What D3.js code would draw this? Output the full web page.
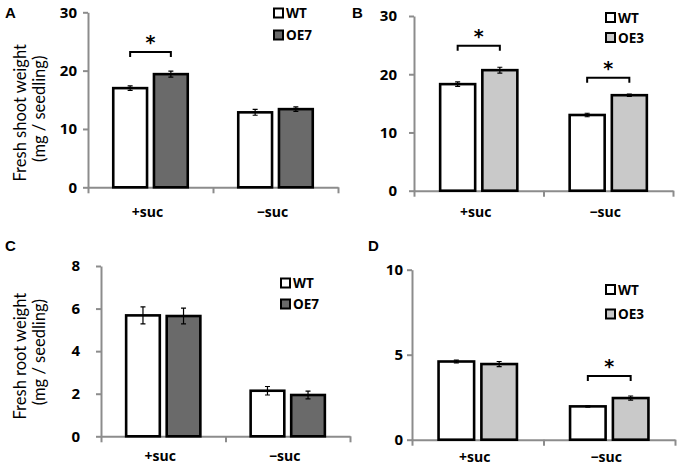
<!DOCTYPE html>
<html>
<head>
<meta charset="utf-8">
<script src="https://cdn.jsdelivr.net/npm/d3@7"></script>
<style>
  body { margin: 0; background: #fff; }
  svg { display: block; font-family: "Open Sans", Lato, sans-serif; }
</style>
</head>
<body>
<svg id="drawing_region"></svg>
<script>
// ---- data ----
const categories = ['+suc', '\u2212suc']

const shootWT_A = [17.0, 12.85]
const shootWT_A_err = [0.4, 0.5]
const shootOE7 = [19.4, 13.4]
const shootOE7_err = [0.5, 0.4]

const shootWT_B = [18.3, 13.0]
const shootWT_B_err = [0.4, 0.3]
const shootOE3 = [20.7, 16.4]
const shootOE3_err = [0.5, 0.2]

const rootWT_C = [5.68, 2.14]
const rootWT_C_err = [0.4, 0.2]
const rootOE7 = [5.65, 1.94]
const rootOE7_err = [0.37, 0.18]

const rootWT_D = [4.6, 1.96]
const rootWT_D_err = [0.08, 0.05]
const rootOE3 = [4.45, 2.45]
const rootOE3_err = [0.15, 0.12]

const shootTicks = [0, 10, 20, 30]
const rootTicksC = [0, 2, 4, 6, 8]
const rootTicksD = [0, 5, 10]

// brackets: category and bracket height in axis units
const sigA = [{cat: '+suc', level: 23.2}]
const sigB = [{cat: '+suc', level: 24.9}, {cat: '\u2212suc', level: 19.4}]
const sigC = []
const sigD = [{cat: '\u2212suc', level: 3.75}]

class BarPanel{
    constructor(config, series, sig){
        this.config = config
        this.series = series
        this.sig = sig
        this.init()
    }

    init(){
        let self = this
        const c = self.config
        self.g = d3.select('#drawing_region').append('g')

        self.xscale = d3.scaleBand().domain(categories).range([c.left, c.right]).padding(0)
        self.sub = d3.scaleBand().domain(self.series.map(s => s.name))
            .range([0, self.xscale.bandwidth()]).paddingInner(0.17).paddingOuter(0.62)
        self.yscale = d3.scaleLinear().domain([0, c.ymax]).range([c.bottom, c.top])
    }

    render(){
        let self = this
        const c = self.config
        const g = self.g

        // y axis
        const yaxis = d3.axisLeft(self.yscale).tickValues(c.ticks).tickSize(5).tickSizeOuter(0).tickPadding(c.tickPad)
        const ya = g.append('g').attr('transform', `translate(${c.left},0)`).call(yaxis)
        ya.select('.domain').attr('stroke', '#8c8c8c').attr('stroke-width', 2)
        ya.selectAll('.tick line').attr('stroke', '#8c8c8c').attr('stroke-width', 2)
        ya.selectAll('.tick text').attr('font-size', 15).attr('font-weight', 'bold')
            .attr('font-family', '"Open Sans", sans-serif').attr('fill', '#000')

        // x axis: ticks at band edges
        const xedge = d3.scaleLinear().domain([0, 2]).range([c.left, c.right])
        const xaxis = d3.axisBottom(xedge).tickValues([0, 1, 2]).tickSize(6).tickSizeOuter(0).tickFormat('')
        const xa = g.append('g').attr('transform', `translate(0,${c.bottom})`).call(xaxis)
        xa.select('.domain').attr('stroke', '#8c8c8c').attr('stroke-width', 2)
        xa.selectAll('.tick line').attr('stroke', '#8c8c8c').attr('stroke-width', 2)

        g.selectAll('.xlab').data(categories).enter().append('text')
            .attr('x', d => self.xscale(d) + self.xscale.bandwidth() / 2 - 3)
            .attr('y', c.bottom + c.xlabY)
            .attr('text-anchor', 'middle')
            .attr('font-size', 14).attr('font-weight', 'bold')
            .text(d => d)

        // bars
        self.series.forEach(s => {
            const rows = categories.map((cat, i) => ({cat: cat, v: s.values[i], e: s.err[i]}))
            const x0 = d => self.xscale(d.cat) + self.sub(s.name)
            g.selectAll(null).data(rows).enter().append('rect')
                .attr('x', x0)
                .attr('y', d => self.yscale(d.v))
                .attr('width', self.sub.bandwidth())
                .attr('height', d => self.yscale(0) - self.yscale(d.v))
                .attr('fill', s.color)
                .attr('stroke', '#000').attr('stroke-width', 2.6)

            const cx = d => x0(d) + self.sub.bandwidth() / 2
            g.selectAll(null).data(rows).enter().append('path')
                .attr('d', d => {
                    const y1 = self.yscale(d.v + d.e), y2 = self.yscale(d.v - d.e), x = cx(d)
                    return `M${x},${y1}V${y2}M${x - 2.5},${y1}H${x + 2.5}M${x - 2.5},${y2}H${x + 2.5}`
                })
                .attr('stroke', '#000').attr('stroke-width', 1.2).attr('fill', 'none')
        })

        // significance brackets
        const mid = (cat, name) => self.xscale(cat) + self.sub(name) + self.sub.bandwidth() / 2
        self.sig.forEach(d => {
            const xa1 = mid(d.cat, self.series[0].name)
            const xa2 = mid(d.cat, self.series[1].name)
            const y = self.yscale(d.level)
            g.append('path')
                .attr('d', `M${xa1},${y + 5}V${y}H${xa2}V${y + 5}`)
                .attr('stroke', '#000').attr('stroke-width', 2).attr('fill', 'none')
            g.append('text')
                .attr('x', (xa1 + xa2) / 2).attr('y', y - 3)
                .attr('text-anchor', 'middle')
                .attr('font-size', 19).attr('font-weight', 'bold')
                .attr('font-family', 'DejaVu Sans, sans-serif')
                .text('*')
        })

        // legend
        self.series.forEach((s, i) => {
            const y = c.legY + i * c.legGap
            g.append('rect')
                .attr('x', c.legX).attr('y', y - 4.5)
                .attr('width', 9).attr('height', 9)
                .attr('fill', s.color).attr('stroke', '#000').attr('stroke-width', 2)
            g.append('text')
                .attr('x', c.legX + 12).attr('y', y + 5)
                .attr('font-size', 13.5).attr('font-weight', 'bold')
                .text(s.name)
        })

        // panel letter
        g.append('text')
            .attr('x', c.letX).attr('y', c.letY)
            .attr('font-size', 15).attr('font-weight', 'bold')
            .attr('font-family', 'Liberation Sans, Arial, sans-serif')
            .text(c.letter)

        // y label
        if(c.ylabel){
            const cy = (c.top + c.bottom) / 2 + c.labShift
            g.append('text')
                .attr('transform', `translate(26,${cy}) rotate(-90)`)
                .attr('text-anchor', 'middle')
                .attr('font-size', 16.5).attr('font-family', 'Lato, sans-serif')
                .text(c.ylabel)
            g.append('text')
                .attr('transform', `translate(45,${cy - 4}) rotate(-90)`)
                .attr('text-anchor', 'middle')
                .attr('font-size', 16.5).attr('font-family', 'Lato, sans-serif')
                .text('(mg / seedling)')
        }
    }
}

const white = '#ffffff'
const darkGray = '#6a6a6a'
const lightGray = '#c9c9c9'

d3.select('#drawing_region').attr('width', 680).attr('height', 466)

const panels = [
    new BarPanel({left: 88, right: 338, top: 12.3, bottom: 187.3, ymax: 30, ticks: shootTicks, tickPad: 6,
                  xlabY: 30, legX: 274, legY: 13, legGap: 22, letter: 'A', letX: 5, letY: 18,
                  ylabel: 'Fresh shoot weight', labShift: 13},
        [{name: 'WT', values: shootWT_A, err: shootWT_A_err, color: white},
         {name: 'OE7', values: shootOE7, err: shootOE7_err, color: darkGray}], sigA),
    new BarPanel({left: 414, right: 673, top: 16, bottom: 190.7, ymax: 30, ticks: shootTicks, tickPad: 12,
                  xlabY: 26, legX: 606, legY: 17.5, legGap: 20, letter: 'B', letX: 352, letY: 18},
        [{name: 'WT', values: shootWT_B, err: shootWT_B_err, color: white},
         {name: 'OE3', values: shootOE3, err: shootOE3_err, color: lightGray}], sigB),
    new BarPanel({left: 101, right: 350, top: 266, bottom: 436.3, ymax: 8, ticks: rootTicksC, tickPad: 16,
                  xlabY: 25, legX: 281, legY: 283, legGap: 21, letter: 'C', letX: 5, letY: 251,
                  ylabel: 'Fresh root weight', labShift: 5},
        [{name: 'WT', values: rootWT_C, err: rootWT_C_err, color: white},
         {name: 'OE7', values: rootOE7, err: rootOE7_err, color: darkGray}], sigC),
    new BarPanel({left: 412, right: 675, top: 269.7, bottom: 439.7, ymax: 10, ticks: rootTicksD, tickPad: 4,
                  xlabY: 22, legX: 606, legY: 289.5, legGap: 24.5, letter: 'D', letX: 368, letY: 251},
        [{name: 'WT', values: rootWT_D, err: rootWT_D_err, color: white},
         {name: 'OE3', values: rootOE3, err: rootOE3_err, color: lightGray}], sigD)
]
panels.forEach(p => p.render())
</script>
</body>
</html>
